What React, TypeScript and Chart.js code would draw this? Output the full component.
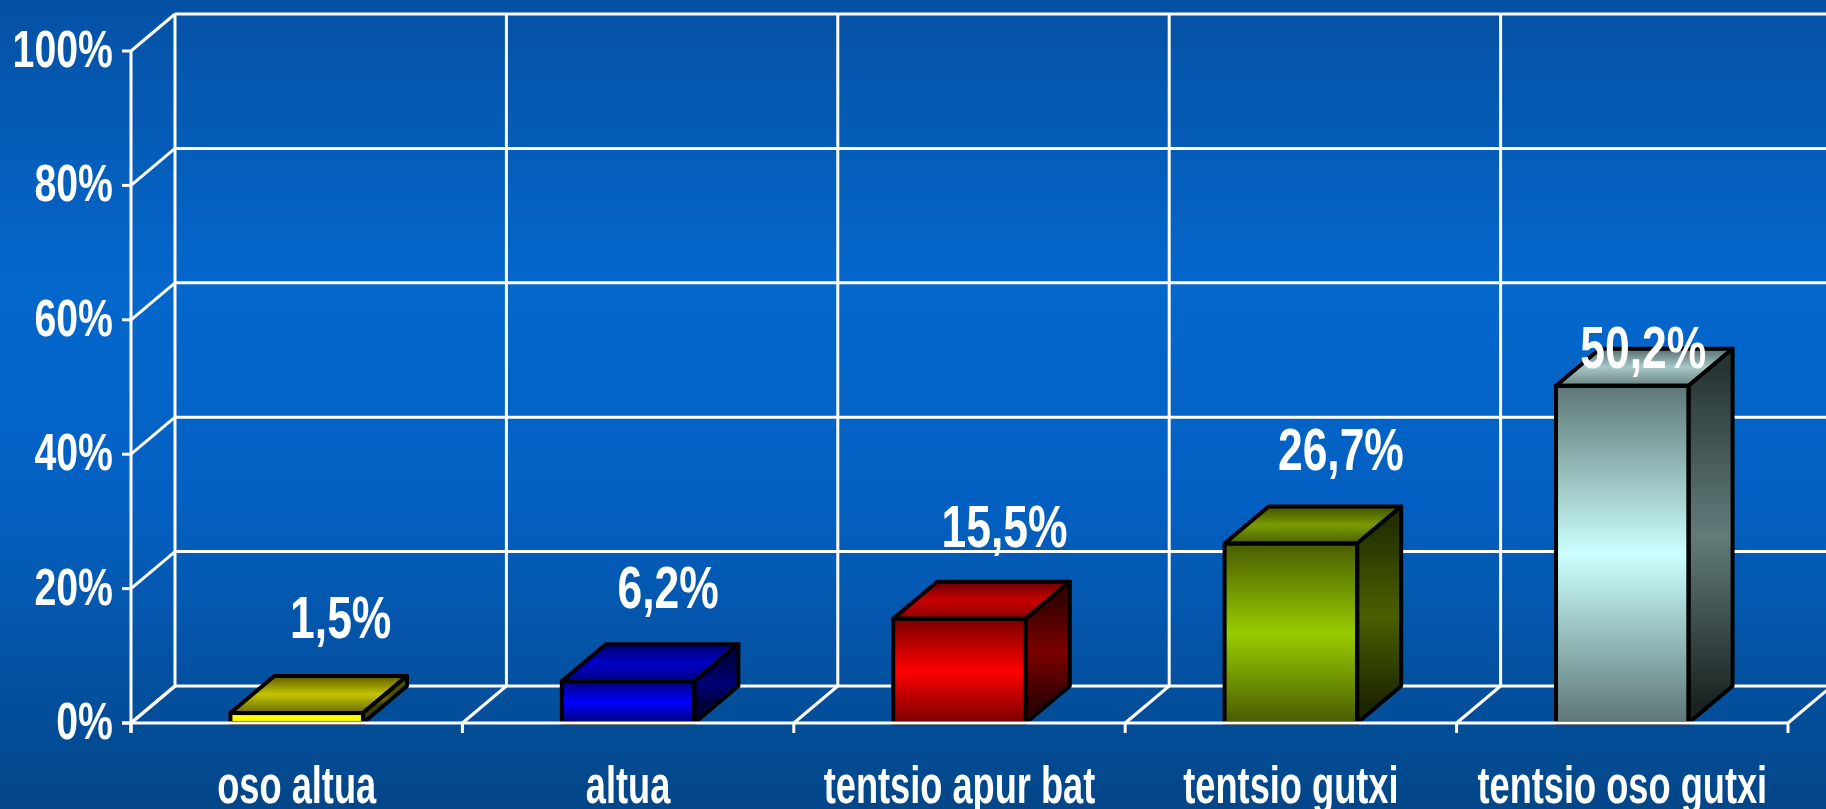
import React, { useEffect, useRef } from "react";
import { Chart, registerables } from "chart.js";

Chart.register(...registerables);

// ---------- data ----------
const categories = ["oso altua", "altua", "tentsio apur bat", "tentsio gutxi", "tentsio oso gutxi"];
const values = [1.5, 6.2, 15.5, 26.7, 50.2];
const valueLabels = ["1,5%", "6,2%", "15,5%", "26,7%", "50,2%"];
const yTicks = [0, 20, 40, 60, 80, 100];
const yTickLabels = ["0%", "20%", "40%", "60%", "80%", "100%"];

// ---------- style ----------
const W = 1826;
const H = 809;
const DX = 44; // 3D depth offset
const DY = -37;
const LINE = "#ffffff";
const FONT = '"Liberation Sans", Arial, sans-serif';
const labelDx = [44, 40, 45, 50, 21];
const labelLift = [96, 94, 93, 95, 39];

type Face = { front: string[]; top: string[]; side: string[] };
const faces: Face[] = [
  { front: ["#e8e800", "#ffff00", "#e8e800"], top: ["#5c5c00", "#c4c400", "#6a6a00"], side: ["#505000", "#6a6a00", "#404000"] },
  { front: ["#00007a", "#0000ff", "#00007a"], top: ["#00006e", "#0000c4", "#00008a"], side: ["#00004a", "#000078", "#00003c"] },
  { front: ["#7a0000", "#ff0000", "#7a0000"], top: ["#6a0000", "#c80000", "#8a0000"], side: ["#380000", "#7a0000", "#300000"] },
  { front: ["#485c00", "#99cc00", "#485c00"], top: ["#3e5000", "#7a9c00", "#4a6000"], side: ["#243000", "#4a6000", "#1e2600"] },
  { front: ["#5e7676", "#ccffff", "#5e7676"], top: ["#566c6c", "#a8c8c8", "#6c8484"], side: ["#263534", "#627c7a", "#1a2322"] },
];

function grad3(ctx: CanvasRenderingContext2D, y0: number, y1: number, c: string[]) {
  const g = ctx.createLinearGradient(0, y0, 0, y1);
  g.addColorStop(0, c[0]);
  g.addColorStop(0.5, c[1]);
  g.addColorStop(1, c[2]);
  return g;
}

function drawText(
  ctx: CanvasRenderingContext2D,
  text: string,
  x: number,
  y: number,
  size: number,
  sx: number,
  align: CanvasTextAlign,
  baseline: CanvasTextBaseline
) {
  ctx.save();
  ctx.font = `bold ${size}px ${FONT}`;
  ctx.fillStyle = "#ffffff";
  ctx.textAlign = align;
  ctx.textBaseline = baseline;
  ctx.translate(x, y);
  ctx.scale(sx, 1);
  ctx.fillText(text, 0, 0);
  ctx.restore();
}

function line(ctx: CanvasRenderingContext2D, x1: number, y1: number, x2: number, y2: number) {
  ctx.beginPath();
  ctx.moveTo(x1, y1);
  ctx.lineTo(x2, y2);
  ctx.stroke();
}

const plugin3d = {
  id: "plot3d",
  beforeDraw(chart: any) {
    const ctx = chart.ctx as CanvasRenderingContext2D;
    const g = ctx.createLinearGradient(0, 0, 0, H);
    g.addColorStop(0, "#0451a4");
    g.addColorStop(0.35, "#0467cc");
    g.addColorStop(0.62, "#0360c2");
    g.addColorStop(1, "#034688");
    ctx.save();
    ctx.fillStyle = g;
    ctx.fillRect(0, 0, W, H);
    ctx.restore();
  },
  beforeDatasetsDraw(chart: any) {
    const ctx = chart.ctx as CanvasRenderingContext2D;
    const { left: L, right: R, top: T, bottom: B } = chart.chartArea;
    const ys = chart.scales.y;
    const n = categories.length;
    const step = (R - L) / n;
    ctx.save();
    ctx.strokeStyle = LINE;
    ctx.lineWidth = 3;
    ctx.lineCap = "butt";
    // back wall horizontal gridlines + left wall diagonals + y ticks
    yTicks.forEach((t) => {
      const y = ys.getPixelForValue(t);
      line(ctx, L + DX, y + DY, R + DX + 10, y + DY);
      line(ctx, L, y, L + DX, y + DY);
      line(ctx, L - 9, y, L, y);
    });
    // back wall verticals & floor diagonals & x ticks
    for (let i = 0; i <= n; i++) {
      const x = L + i * step;
      line(ctx, x + DX, ys.getPixelForValue(100) + DY, x + DX, B + DY);
      line(ctx, x, B, x + DX, B + DY);
      line(ctx, x, B, x, B + 10);
    }
    // front vertical axis
    line(ctx, L, T, L, B + 10);
    ctx.restore();
  },
  afterDatasetsDraw(chart: any) {
    const ctx = chart.ctx as CanvasRenderingContext2D;
    const { left: L, right: R, bottom: B } = chart.chartArea;
    const ys = chart.scales.y;
    const xs = chart.scales.x;
    const meta = chart.getDatasetMeta(0);
    ctx.save();
    ctx.lineJoin = "round";
    meta.data.forEach((bar: any, i: number) => {
      const half = bar.width / 2;
      const xl = bar.x - half;
      const xr = bar.x + half;
      const top = bar.y;
      const base = bar.base;
      const f = faces[i];
      // top face
      ctx.beginPath();
      ctx.moveTo(xl, top);
      ctx.lineTo(xl + DX, top + DY);
      ctx.lineTo(xr + DX, top + DY);
      ctx.lineTo(xr, top);
      ctx.closePath();
      ctx.fillStyle = grad3(ctx, top + DY, top, f.top);
      ctx.fill();
      ctx.strokeStyle = "#000";
      ctx.lineWidth = 4;
      ctx.stroke();
      // side face
      ctx.beginPath();
      ctx.moveTo(xr, top);
      ctx.lineTo(xr + DX, top + DY);
      ctx.lineTo(xr + DX, base + DY);
      ctx.lineTo(xr, base);
      ctx.closePath();
      ctx.fillStyle = grad3(ctx, top + DY / 2, base + DY / 2, f.side);
      ctx.fill();
      ctx.stroke();
      // front face outline
      ctx.strokeRect(xl, top, xr - xl, base - top);
    });
    ctx.restore();

    // front floor line (axis)
    ctx.save();
    ctx.strokeStyle = LINE;
    ctx.lineWidth = 3;
    line(ctx, L - 9, B, R, B);
    ctx.restore();

    // y tick labels
    yTicks.forEach((t, i) => {
      drawText(ctx, yTickLabels[i], L - 18, ys.getPixelForValue(t) + 2, 51, 0.77, "right", "middle");
    });
    // category labels
    categories.forEach((c, i) => {
      drawText(ctx, c, xs.getPixelForValue(i), B + 80, 51, 0.71, "center", "alphabetic");
    });
    // value labels
    meta.data.forEach((bar: any, i: number) => {
      const cy = bar.y - labelLift[i];
      drawText(ctx, valueLabels[i], bar.x + labelDx[i], cy + 21, 60, 0.74, "center", "alphabetic");
    });
  },
};

export default function App() {
  const ref = useRef<HTMLCanvasElement | null>(null);
  useEffect(() => {
    if (!ref.current) return;
    const chart = new Chart(ref.current, {
      type: "bar",
      data: {
        labels: categories,
        datasets: [
          {
            data: values,
            backgroundColor: (c: any) => {
              const i = c.dataIndex ?? 0;
              const ys = c.chart.scales?.y;
              if (!ys) return faces[i].front[1];
              const top = ys.getPixelForValue(values[i]);
              const base = ys.getPixelForValue(0);
              if (!isFinite(top) || !isFinite(base) || top === base) return faces[i].front[1];
              return grad3(c.chart.ctx, top, base, faces[i].front);
            },
            borderWidth: 0,
            barPercentage: 0.4,
            categoryPercentage: 1,
          },
        ],
      },
      options: {
        responsive: false,
        maintainAspectRatio: false,
        animation: false,
        devicePixelRatio: 1,
        layout: { padding: { left: 131, right: W - 1788, top: 51, bottom: H - 723 } },
        plugins: { legend: { display: false }, tooltip: { enabled: false } },
        scales: {
          x: { display: false, offset: true },
          y: { display: false, min: 0, max: 100 },
        },
      },
      plugins: [plugin3d],
    });
    return () => chart.destroy();
  }, []);
  return (
    <div style={{ position: "fixed", left: 0, top: 0, width: W, height: H }}>
      <canvas ref={ref} width={W} height={H} style={{ display: "block", width: W, height: H }} />
    </div>
  );
}
